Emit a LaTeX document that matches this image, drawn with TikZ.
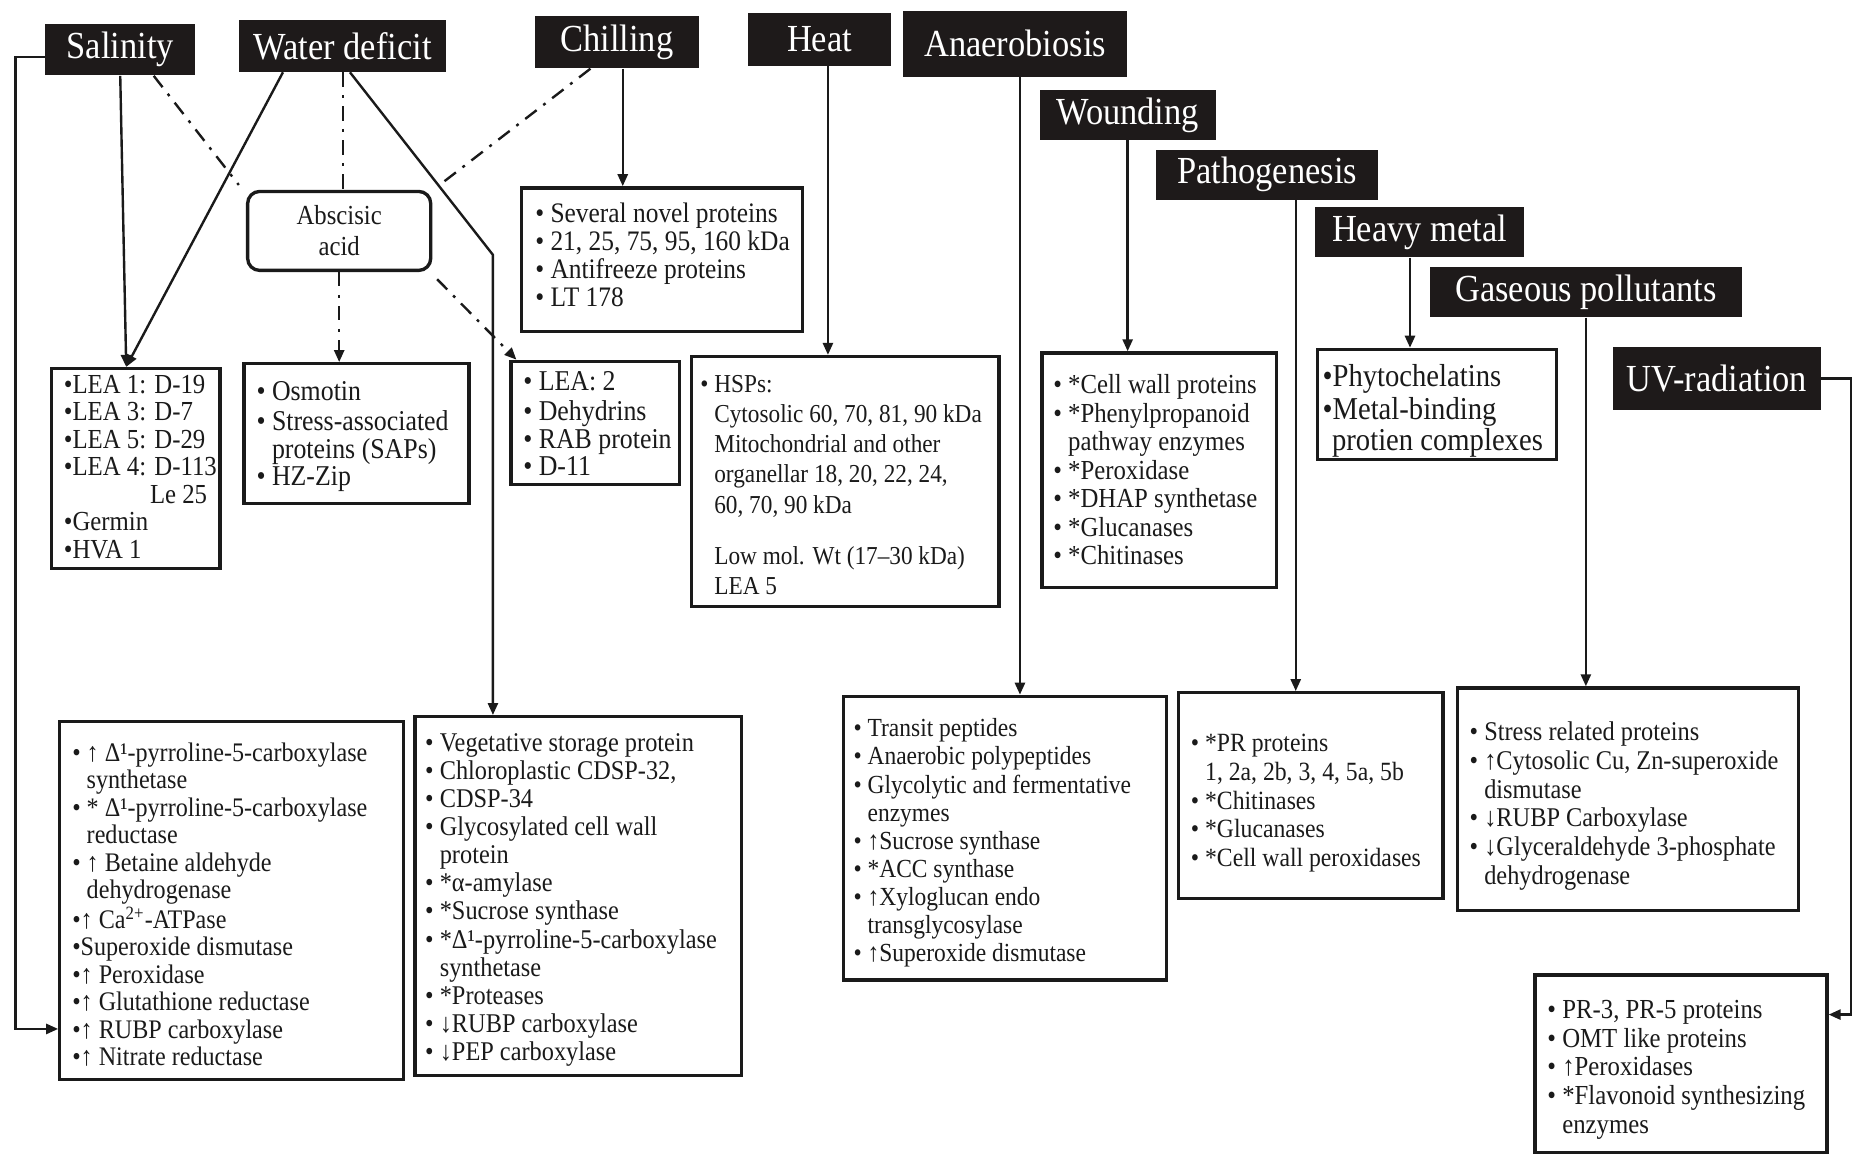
\documentclass[tikz,border=0pt]{standalone}
\usepackage{fontspec}
\setmainfont{Liberation Serif}[FakeStretch=0.9]
\usetikzlibrary{arrows.meta}

\definecolor{hdrfill}{HTML}{1E1A1A}
\definecolor{ink}{HTML}{1A1A1A}

% box from corner (x1,y1) to (x2,y2) in picture units (1 unit = 0.5pt)
\newcommand\placebox[7]{%
  \pgfmathsetmacro\bw{(#5-#3)*0.5}%
  \pgfmathsetmacro\bh{(#6-#4)*0.5}%
  \node[#2, minimum width=\bw pt, minimum height=\bh pt] (#1) at ({(#3+#5)/2},{(#4+#6)/2}) {#7};%
}
\newcommand\ind{\hphantom{•\ }}

\begin{document}
\begin{tikzpicture}[x=0.5pt, y=-0.5pt,
  hdr/.style={fill=hdrfill, draw=none, text=white, inner sep=0pt,
    font=\fontsize{16}{18}\selectfont},
  panel/.style={draw=ink, line width=1.4pt, fill=white, inner sep=0pt},
  txt/.style={anchor=north west, inner sep=0pt, align=left, text=ink},
  conn/.style={draw=ink, line width=1pt},
  arr/.style={conn, -{Triangle[length=5pt,width=4.2pt]}},
  dd/.style={conn, dash pattern=on 6pt off 3.5pt on 1.2pt off 3.5pt}]

\fill[white] (0,0) rectangle (1568,966);
\useasboundingbox (0,0) rectangle (1568,966);

% stress headers
\placebox{sal}{hdr}{38}{20}{163}{63}{Salinity}
\placebox{wd}{hdr}{200}{17}{373}{60}{Water deficit}
\placebox{chill}{hdr}{447}{13}{584}{57}{Chilling}
\placebox{heat}{hdr}{625}{11}{745}{55}{Heat}
\placebox{anaer}{hdr}{755}{9}{942}{64}{Anaerobiosis}
\placebox{wound}{hdr}{869}{75}{1016}{117}{Wounding}
\placebox{path}{hdr}{966}{125}{1152}{167}{Pathogenesis}
\placebox{metal}{hdr}{1099}{173}{1274}{215}{Heavy metal}
\placebox{gas}{hdr}{1195}{223}{1456}{265}{Gaseous pollutants}
\placebox{uv}{hdr}{1348}{290}{1522}{343}{UV-radiation}

% abscisic acid
\placebox{aba}{panel, rounded corners=5pt, align=center, text=ink,
  font=\fontsize{11.5}{13}\selectfont}{207}{160}{360}{226}{Abscisic\\acid}

% protein boxes
\placebox{bLEA}{panel}{43}{308}{184}{475}{}
\placebox{bOsm}{panel}{204}{304}{392}{421}{}
\placebox{bChill}{panel}{436}{157}{671}{277}{}
\placebox{bLEA2}{panel}{427}{302}{568}{405}{}
\placebox{bHSP}{panel}{578}{298}{835}{507}{}
\placebox{bWound}{panel}{871}{295}{1067}{491}{}
\placebox{bMetal}{panel}{1101}{292}{1301}{384}{}
\placebox{bSal}{panel}{50}{603}{337}{902}{}
\placebox{bWD}{panel}{347}{599}{620}{899}{}
\placebox{bAnaer}{panel}{705}{582}{975}{819}{}
\placebox{bPath}{panel}{985}{579}{1206}{751}{}
\placebox{bGas}{panel}{1218}{575}{1503}{761}{}
\placebox{bUV}{panel}{1283}{815}{1527}{963}{}

% box contents
\node[txt, font=\fontsize{11.5}{11.5}\selectfont] (tLEA) at (53,312)
  {\strut•LEA 1: D-19\\•LEA 3: D-7\\•LEA 5: D-29\\•LEA 4: D-113\\\hspace*{36pt}Le 25\\•Germin\\•HVA 1};
\node[txt, font=\fontsize{12}{11.5}\selectfont] (tOsm) at (214,318)
  {\strut• Osmotin\\• Stress-associated\\\ind proteins (SAPs)\\• HZ-Zip};
\node[txt, font=\fontsize{11.8}{11.75}\selectfont] (tChill) at (447,169)
  {\strut• Several novel proteins\\• 21, 25, 75, 95, 160 kDa\\• Antifreeze proteins\\• LT 178};
\node[txt, font=\fontsize{12}{11.4}\selectfont] (tLEA2) at (437,310)
  {\strut• LEA: 2\\• Dehydrins\\• RAB protein\\• D-11};
\node[txt, font=\fontsize{10.8}{12.6}\selectfont] (tHSP) at (585,310)
  {\strut• HSPs:\\\ind Cytosolic 60, 70, 81, 90 kDa\\\ind Mitochondrial and other\\\ind organellar 18, 20, 22, 24,\\\ind 60, 70, 90 kDa\\[9pt]\ind Low mol. Wt (17–30 kDa)\\\ind LEA 5};
\node[txt, font=\fontsize{11.5}{11.9}\selectfont] (tWound) at (880,312)
  {\strut• *Cell wall proteins\\• *Phenylpropanoid\\\ind pathway enzymes\\• *Peroxidase\\• *DHAP synthetase\\• *Glucanases\\• *Chitinases};
\node[txt, font=\fontsize{13.3}{11.6}\selectfont] (tMetal) at (1105,304)
  {\strut•Phytochelatins\\•Metal-binding\\\hspace*{4pt}protien complexes};
\node[txt, font=\fontsize{11.2}{11.45}\selectfont] (tSal) at (60,620)
  {\strut• ↑ Δ¹-pyrroline-5-carboxylase\\\ind synthetase\\• * Δ¹-pyrroline-5-carboxylase\\\ind reductase\\• ↑ Betaine aldehyde\\\ind dehydrogenase\\•↑ Ca\textsuperscript{2+}-ATPase\\•Superoxide dismutase\\•↑ Peroxidase\\•↑ Glutathione reductase\\•↑ RUBP carboxylase\\•↑ Nitrate reductase};
\node[txt, font=\fontsize{11.3}{11.75}\selectfont] (tWD) at (355,611)
  {\strut• Vegetative storage protein\\• Chloroplastic CDSP-32,\\• CDSP-34\\• Glycosylated cell wall\\\ind protein\\• *α-amylase\\• *Sucrose synthase\\• *Δ¹-pyrroline-5-carboxylase\\\ind synthetase\\• *Proteases\\• ↓RUBP carboxylase\\• ↓PEP carboxylase};
\node[txt, font=\fontsize{10.9}{11.75}\selectfont] (tAnaer) at (713,599)
  {\strut• Transit peptides\\• Anaerobic polypeptides\\• Glycolytic and fermentative\\\ind enzymes\\• ↑Sucrose synthase\\• *ACC synthase\\• ↑Xyloglucan endo\\\ind transglycosylase\\• ↑Superoxide dismutase};
\node[txt, font=\fontsize{11}{12}\selectfont] (tPath) at (995,611)
  {\strut• *PR proteins\\\ind 1, 2a, 2b, 3, 4, 5a, 5b\\• *Chitinases\\• *Glucanases\\• *Cell wall peroxidases};
\node[txt, font=\fontsize{11.3}{12}\selectfont] (tGas) at (1228,602)
  {\strut• Stress related proteins\\• ↑Cytosolic Cu, Zn-superoxide\\\ind dismutase\\• ↓RUBP Carboxylase\\• ↓Glyceraldehyde 3-phosphate\\\ind dehydrogenase};
\node[txt, font=\fontsize{11.5}{12}\selectfont] (tUV) at (1293,834)
  {\strut• PR-3, PR-5 proteins\\• OMT like proteins\\• ↑Peroxidases\\• *Flavonoid synthesizing\\\ind enzymes};

% routing points
\coordinate (salDown) at (13,860);
\coordinate (wdBend) at (412,213);
\coordinate (uvDown) at (1547,848);
\path ([xshift=-4pt]bLEA.north) coordinate (leaIn)
      ([xshift=-25pt]wd.south) coordinate (wdLeft)
      ([xshift=3pt]wd.south) coordinate (wdRight)
      ([xshift=14pt]sal.south) coordinate (salRight)
      ([xshift=-11pt]chill.south) coordinate (chillLeft)
      ([xshift=2.5pt]chill.south) coordinate (chillOut)
      ([xshift=3.5pt]heat.south) coordinate (heatOut)
      ([xshift=2pt]anaer.south) coordinate (anaerOut)
      ([xshift=12pt]path.south) coordinate (pathOut)
      ([xshift=-4pt]metal.south) coordinate (metalOut);

% salinity
\draw[arr] ([yshift=-3pt]sal.west) -| (salDown) -- (salDown -| bSal.west);
\draw[arr] (sal.south) -- (leaIn);
\draw[dd] (salRight) -- ([shift={(-3pt,2pt)}]aba.north west);

% water deficit
\draw[arr] (wdLeft) -- (leaIn);
\draw[dd] (wd.south) -- (wd.south |- aba.north);
\draw[arr] (wdRight) -- (wdBend) -- (wdBend |- bWD.north);

% chilling
\draw[dd] (chillLeft) -- ([shift={(3pt,2pt)}]aba.north east);
\draw[arr] (chillOut) -- (chillOut |- bChill.north);

% abscisic acid
\draw[dd, -{Triangle[length=5pt,width=4.2pt]}] (aba.south) -- (aba.south |- bOsm.north);
\draw[dd, -{Triangle[length=5pt,width=4.2pt]}] ([shift={(2pt,-3pt)}]aba.south east) -- ([xshift=3pt]bLEA2.north west);

% remaining stresses
\draw[arr] (heatOut) -- (heatOut |- bHSP.north);
\draw[arr] (anaerOut) -- (anaerOut |- bAnaer.north);
\draw[arr] (wound.south) -- (wound.south |- bWound.north);
\draw[arr] (pathOut) -- (pathOut |- bPath.north);
\draw[arr] (metalOut) -- (metalOut |- bMetal.north);
\draw[arr] (gas.south) -- (gas.south |- bGas.north);
\draw[arr] (uv.east) -| (uvDown) -- (uvDown -| bUV.east);

\end{tikzpicture}
\end{document}
